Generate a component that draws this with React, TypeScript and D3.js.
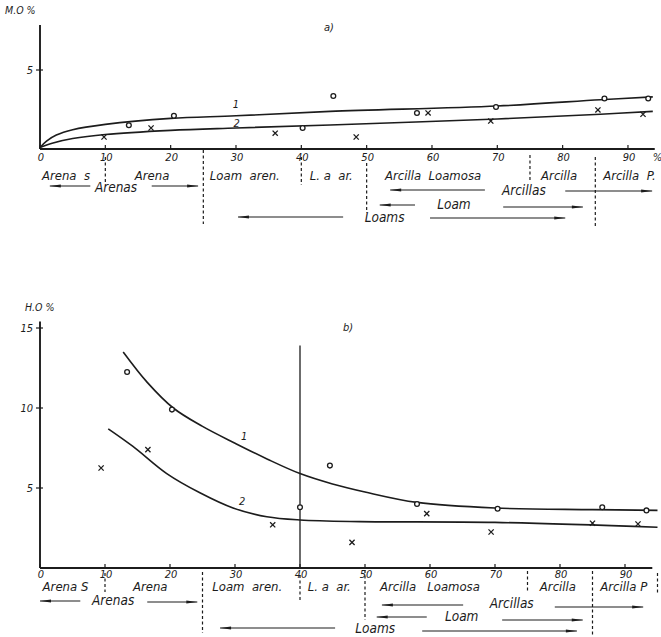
import React from 'react'
import * as d3 from 'd3'

// ---- data ----
const xTicks = [0, 10, 20, 30, 40, 50, 60, 70, 80, 90]
const classBounds = [10, 25, 40, 50, 75, 85]

// panel a) M.O %
const moCurve1 = [[0, 0.1], [1, 0.5], [2.5, 0.88], [5, 1.22], [10, 1.56], [20, 1.94], [30, 2.1], [44.4, 2.38], [70, 2.72], [85.8, 3.12], [93.8, 3.3]]
const moCurve2 = [[0, 0.1], [2, 0.38], [5, 0.66], [10, 0.92], [20, 1.18], [30, 1.33], [44.4, 1.52], [70, 1.9], [85.8, 2.2], [93.8, 2.38]]
const moCircles = [[13.6, 1.5], [20.5, 2.1], [40.2, 1.33], [44.9, 3.35], [57.7, 2.28], [69.8, 2.66], [86.4, 3.2], [93.1, 3.2]]
const moCrosses = [[9.8, 0.76], [17, 1.33], [36, 1.0], [48.4, 0.76], [59.4, 2.28], [69, 1.77], [85.4, 2.47], [92.3, 2.2]]

// panel b) H.O %
const hoCurve1 = [[12.8, 13.5], [16.5, 11.6], [20.5, 10.0], [25, 8.85], [30, 7.8], [35, 6.8], [40, 5.9], [45, 5.25], [50, 4.75], [58, 4.1], [70, 3.75], [85, 3.65], [95, 3.6]]
const hoCurve2 = [[10.5, 8.7], [14.3, 7.6], [19.5, 5.9], [24.6, 4.7], [29.7, 3.75], [34.9, 3.2], [40, 3.0], [49.2, 2.9], [70, 2.85], [95, 2.55]]
const hoCircles = [[13.4, 12.25], [20.3, 9.9], [40, 3.8], [44.6, 6.4], [58, 4.0], [70.4, 3.7], [86.5, 3.8], [93.3, 3.6]]
const hoCrosses = [[9.4, 6.25], [16.6, 7.4], [35.8, 2.7], [48, 1.6], [59.5, 3.4], [69.4, 2.25], [85, 2.8], [92, 2.75]]

const soilClassesA = ['Arena  s', 'Arena', 'Loam  aren.', 'L. a  ar.', 'Arcilla  Loamosa', 'Arcilla', 'Arcilla  P.']
const soilClassesB = ['Arena S', 'Arena', 'Loam  aren.', 'L. a  ar.', 'Arcilla   Loamosa', 'Arcilla', 'Arcilla P']
const groups = ['Arenas', 'Arcillas', 'Loam', 'Loams']

const INK = '#1c1c1c'
const FONT = '"DejaVu Sans Condensed", "DejaVu Sans", sans-serif'

const Arrow = ({ x1, x2, y, dir }) => {
  const tip = dir < 0 ? x1 : x2
  const head = dir < 0
    ? `${tip},${y} ${tip + 11},${y - 1.6} ${tip + 11},${y + 1.6}`
    : `${tip},${y} ${tip - 11},${y - 1.6} ${tip - 11},${y + 1.6}`
  return (
    <g>
      <line x1={x1} x2={x2} y1={y} y2={y} stroke={INK} strokeWidth={1.2} />
      <polygon points={head} fill={INK} />
    </g>
  )
}

const Panel = ({ cfg }) => {
  const x = d3.scaleLinear().domain([0, 90]).range([40, 40 + cfg.k * 90])
  const y = d3.scaleLinear().domain([0, cfg.yMaxTick]).range([cfg.y0, cfg.y0 - cfg.ky * cfg.yMaxTick])
  const line = d3.line().x(d => x(d[0])).y(d => y(d[1])).curve(d3.curveCatmullRom.alpha(0.5))
  const base = cfg.y0

  return (
    <g fontFamily={FONT} fontStyle="italic" fill={INK}>
      {/* axes */}
      <line x1={x(0)} x2={x(cfg.xEnd)} y1={base} y2={base} stroke={INK} strokeWidth={1.9} />
      <line x1={x(0)} x2={x(0)} y1={base} y2={y(cfg.yTop)} stroke={INK} strokeWidth={1.9} />
      {xTicks.map(t => (
        <g key={t}>
          <line x1={x(t)} x2={x(t)} y1={base} y2={base - 4} stroke={INK} strokeWidth={1.2} />
          <text x={x(t) + 1} y={base + cfg.tickDy} fontSize={11} textAnchor="middle">{t}</text>
        </g>
      ))}
      {cfg.percentMark && <text x={x(cfg.xEnd) - 2} y={base + cfg.tickDy} fontSize={11}>%</text>}
      {cfg.yTicks.map(t => (
        <g key={t}>
          <line x1={x(0) - 4} x2={x(0) + 3} y1={y(t)} y2={y(t)} stroke={INK} strokeWidth={1.2} />
          <text x={x(0) - 7} y={y(t) + 4} fontSize={11} textAnchor="end">{t}</text>
        </g>
      ))}
      <text x={cfg.yLabelX} y={y(cfg.yTop) - 11} fontSize={10.5}>{cfg.yLabel}</text>
      <text x={cfg.titleX} y={cfg.titleY} fontSize={11}>{cfg.title}</text>

      {/* class boundaries */}
      {classBounds.map((b, i) => (
        <line key={b} x1={x(b)} x2={x(b)} y1={base + cfg.dashTop[i]} y2={base + cfg.dashBottom[i]}
          stroke={INK} strokeWidth={1.2} strokeDasharray="3,2.5" />
      ))}
      {cfg.edgeDash && (
        <line x1={x(95)} x2={x(95)} y1={base + 5} y2={base + 25} stroke={INK} strokeWidth={1.2} strokeDasharray="3,2.5" />
      )}
      {cfg.guide && (
        <line x1={x(40)} x2={x(40)} y1={y(cfg.guide)} y2={base} stroke={INK} strokeWidth={1.3} />
      )}

      {/* class names */}
      {cfg.classes.map((c, i) => (
        <text key={i} x={x(cfg.classX[i])} y={base + cfg.classDy} fontSize={13} style={{ whiteSpace: 'pre' }}>{c}</text>
      ))}

      {/* group labels with arrows */}
      {groups.map((g, i) => {
        const r = cfg.rows[i]
        return (
          <g key={g}>
            <Arrow x1={x(r.left[0])} x2={x(r.left[1])} y={base + r.ay} dir={-1} />
            <text x={x(r.tx)} y={base + r.ty} fontSize={13.5}>{g}</text>
            <Arrow x1={x(r.right[0])} x2={x(r.right[1])} y={base + r.ay2} dir={1} />
          </g>
        )
      })}

      {/* curves */}
      <path d={line(cfg.c1)} fill="none" stroke={INK} strokeWidth={1.6} />
      <path d={line(cfg.c2)} fill="none" stroke={INK} strokeWidth={1.6} />
      <text x={x(cfg.l1[0])} y={y(cfg.l1[1]) + 4} fontSize={11} textAnchor="middle">1</text>
      <text x={x(cfg.l2[0])} y={y(cfg.l2[1]) + 4} fontSize={11} textAnchor="middle">2</text>

      {/* observations */}
      {cfg.circles.map((d, i) => (
        <circle key={i} cx={x(d[0])} cy={y(d[1])} r={2.4} fill="white" stroke={INK} strokeWidth={1.3} />
      ))}
      {cfg.crosses.map((d, i) => (
        <path key={i} d={`M${x(d[0]) - 2.6},${y(d[1]) - 2.6}L${x(d[0]) + 2.6},${y(d[1]) + 2.6}M${x(d[0]) - 2.6},${y(d[1]) + 2.6}L${x(d[0]) + 2.6},${y(d[1]) - 2.6}`}
          stroke={INK} strokeWidth={1.3} />
      ))}
    </g>
  )
}

const panelA = {
  k: 6.533, y0: 149, ky: 15.8, yMaxTick: 5, yTicks: [5], yTop: 7.85, xEnd: 94.1, tickDy: 12,
  yLabel: 'M.O %', yLabelX: 5, title: 'a)', titleX: 324, titleY: 31, percentMark: true,
  dashTop: [8, 1, 8, 14, 6, 8], dashBottom: [33, 75, 36, 64, 33, 78],
  classes: soilClassesA, classX: [0.3, 14.5, 26, 41.3, 52.8, 76.7, 86.2], classDy: 31,
  rows: [
    { left: [1.5, 7.7], right: [17.1, 24.2], tx: 8.4, ty: 43, ay: 37, ay2: 37 },
    { left: [53.6, 68.1], right: [80.4, 93.7], tx: 70.7, ty: 46, ay: 41, ay2: 42 },
    { left: [52, 57.4], right: [70.9, 83.1], tx: 60.8, ty: 60, ay: 56, ay2: 58 },
    { left: [30.3, 46.4], right: [59.7, 80.4], tx: 49.7, ty: 73, ay: 68, ay2: 69 },
  ],
  c1: moCurve1, c2: moCurve2, l1: [30, 2.85], l2: [30.1, 1.65],
  circles: moCircles, crosses: moCrosses,
}

const panelB = {
  k: 6.5, y0: 568, ky: 16, yMaxTick: 15, yTicks: [15, 10, 5], yTop: 15.4, xEnd: 94.2, tickDy: 10,
  yLabel: 'H.O %', yLabelX: 25, title: 'b)', titleX: 343, titleY: 331, percentMark: false,
  dashTop: [5, 4, 7, 2, 3, 3], dashBottom: [24, 65, 32, 52, 24, 69], edgeDash: true, guide: 13.9,
  classes: soilClassesB, classX: [0.4, 14.3, 26.5, 41.2, 52.3, 76.9, 86.2], classDy: 23,
  rows: [
    { left: [0, 6.2], right: [16.5, 24.2], tx: 8, ty: 37, ay: 33, ay2: 34 },
    { left: [52.6, 65.1], right: [79.2, 92.8], tx: 69.2, ty: 40, ay: 37, ay2: 39 },
    { left: [51.8, 59.5], right: [71.1, 83.5], tx: 62.3, ty: 53, ay: 49, ay2: 52 },
    { left: [27.7, 45.4], right: [58.8, 82.6], tx: 48.5, ty: 65, ay: 60, ay2: 63 },
  ],
  c1: hoCurve1, c2: hoCurve2, l1: [31.4, 8.25], l2: [31.1, 4.2],
  circles: hoCircles, crosses: hoCrosses,
}

export default function App() {
  return (
    <svg width={661} height={637} style={{ position: 'absolute', left: 0, top: 0, background: 'white' }}>
      <rect width={661} height={637} fill="white" />
      <Panel cfg={panelA} />
      <Panel cfg={panelB} />
    </svg>
  )
}
